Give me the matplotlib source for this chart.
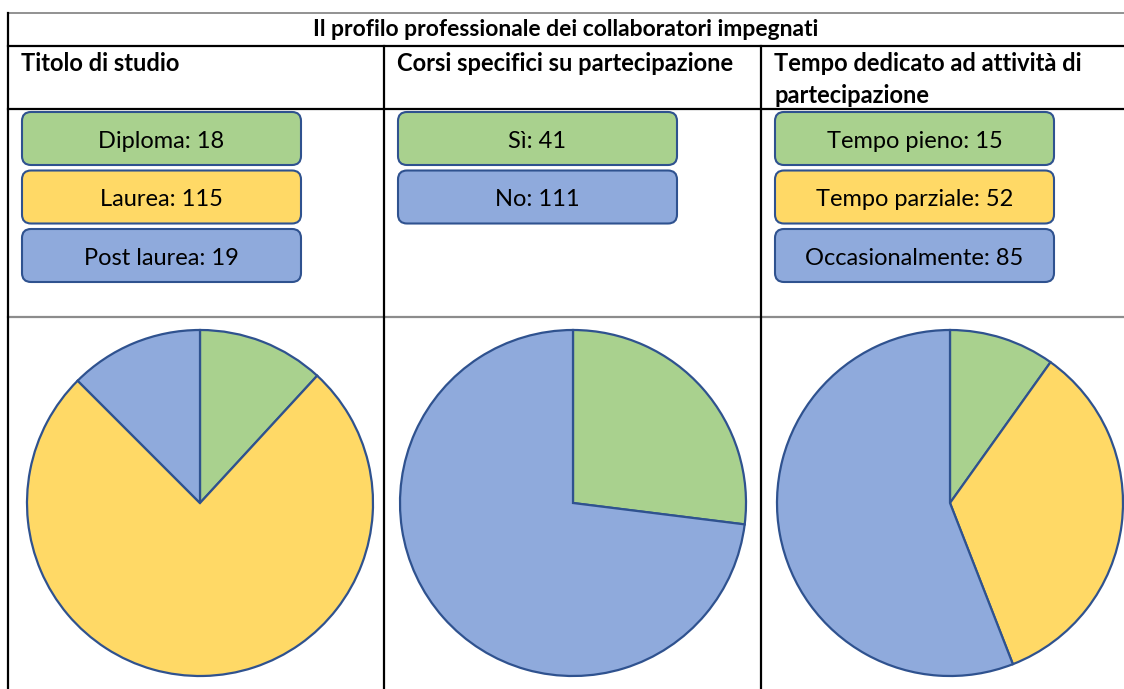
import matplotlib
matplotlib.use("Agg")
import matplotlib.pyplot as plt
from matplotlib.patches import FancyBboxPatch

W, H = 1124, 689
DPI = 100

title = "Il profilo professionale dei collaboratori impegnati"
headers = ["Titolo di studio",
           "Corsi specifici su partecipazione",
           "Tempo dedicato ad attività di\npartecipazione"]

study_labels = ["Diploma", "Laurea", "Post laurea"]
study_values = [18, 115, 19]

course_labels = ["Sì", "No"]
course_values = [41, 111]

time_labels = ["Tempo pieno", "Tempo parziale", "Occasionalmente"]
time_values = [15, 52, 85]

GREEN = "#A9D18E"
YELLOW = "#FFD966"
BLUE = "#8FAADC"
EDGE = "#2F528F"

study_colors = [GREEN, YELLOW, BLUE]
course_colors = [GREEN, BLUE]
time_colors = [GREEN, YELLOW, BLUE]

plt.rcParams["font.family"] = ["Lato", "DejaVu Sans"]

fig = plt.figure(figsize=(W / DPI, H / DPI), dpi=DPI)
fig.patch.set_facecolor("white")

# Full-figure axes in pixel coordinates for the table grid and text
base = fig.add_axes([0, 0, 1, 1])
base.set_xlim(0, W)
base.set_ylim(H, 0)
base.axis("off")

left_x = 8
col_x = [left_x, 384, 761]
y_top, y_head, y_head_bot, y_leg_bot = 13, 46, 109, 317

# grid lines
base.plot([left_x, W], [y_top, y_top], color="#7f7f7f", lw=1.2)
base.plot([left_x, W], [y_head, y_head], color="black", lw=1.6)
base.plot([left_x, W], [y_head_bot, y_head_bot], color="black", lw=1.6)
base.plot([left_x, W], [y_leg_bot, y_leg_bot], color="#8c8c8c", lw=1.6)
base.plot([left_x, left_x], [y_top, H], color="black", lw=1.6)
for x in col_x[1:]:
    base.plot([x, x], [y_head, H], color="black", lw=1.6)

# title and column headers
base.text(566, 36, title, ha="center", va="baseline",
          fontsize=16.5, fontweight="bold")
for x, h in zip(col_x, headers):
    lines = h.split("\n")
    for i, line in enumerate(lines):
        base.text(x + 13, 71 + 32 * i, line, ha="left", va="baseline",
                  fontsize=17, fontweight="bold")

# legend boxes
box_w, box_h = 279, 53
box_tops = [112, 170.5, 229]
groups = [
    (study_labels, study_values, study_colors),
    (course_labels, course_values, course_colors),
    (time_labels, time_values, time_colors),
]
for x, (labels, values, colors) in zip(col_x, groups):
    bx = x + 14
    for top, lab, val, col in zip(box_tops, labels, values, colors):
        patch = FancyBboxPatch((bx, top), box_w, box_h,
                               boxstyle="round,pad=0,rounding_size=9",
                               facecolor=col, edgecolor=EDGE, lw=1.5)
        base.add_patch(patch)
        base.text(bx + box_w / 2, top + 36, f"{lab}: {val}",
                  ha="center", va="baseline", fontsize=17)

# pies
pie_cx = [200, 573, 950]
pie_cy = 503
pie_r = 173
for cx, (labels, values, colors) in zip(pie_cx, groups):
    ax = fig.add_axes([(cx - pie_r) / W, (H - pie_cy - pie_r) / H,
                       2 * pie_r / W, 2 * pie_r / H])
    wedges, _ = ax.pie(values, colors=colors, startangle=90,
                       counterclock=False, radius=1,
                       wedgeprops=dict(edgecolor=EDGE, linewidth=1.6))
    for w in wedges:
        w.set_clip_on(False)
    ax.set_xlim(-1, 1)
    ax.set_ylim(-1, 1)
    ax.set_aspect("auto")
    ax.axis("off")

fig.savefig("out.png", dpi=DPI)
